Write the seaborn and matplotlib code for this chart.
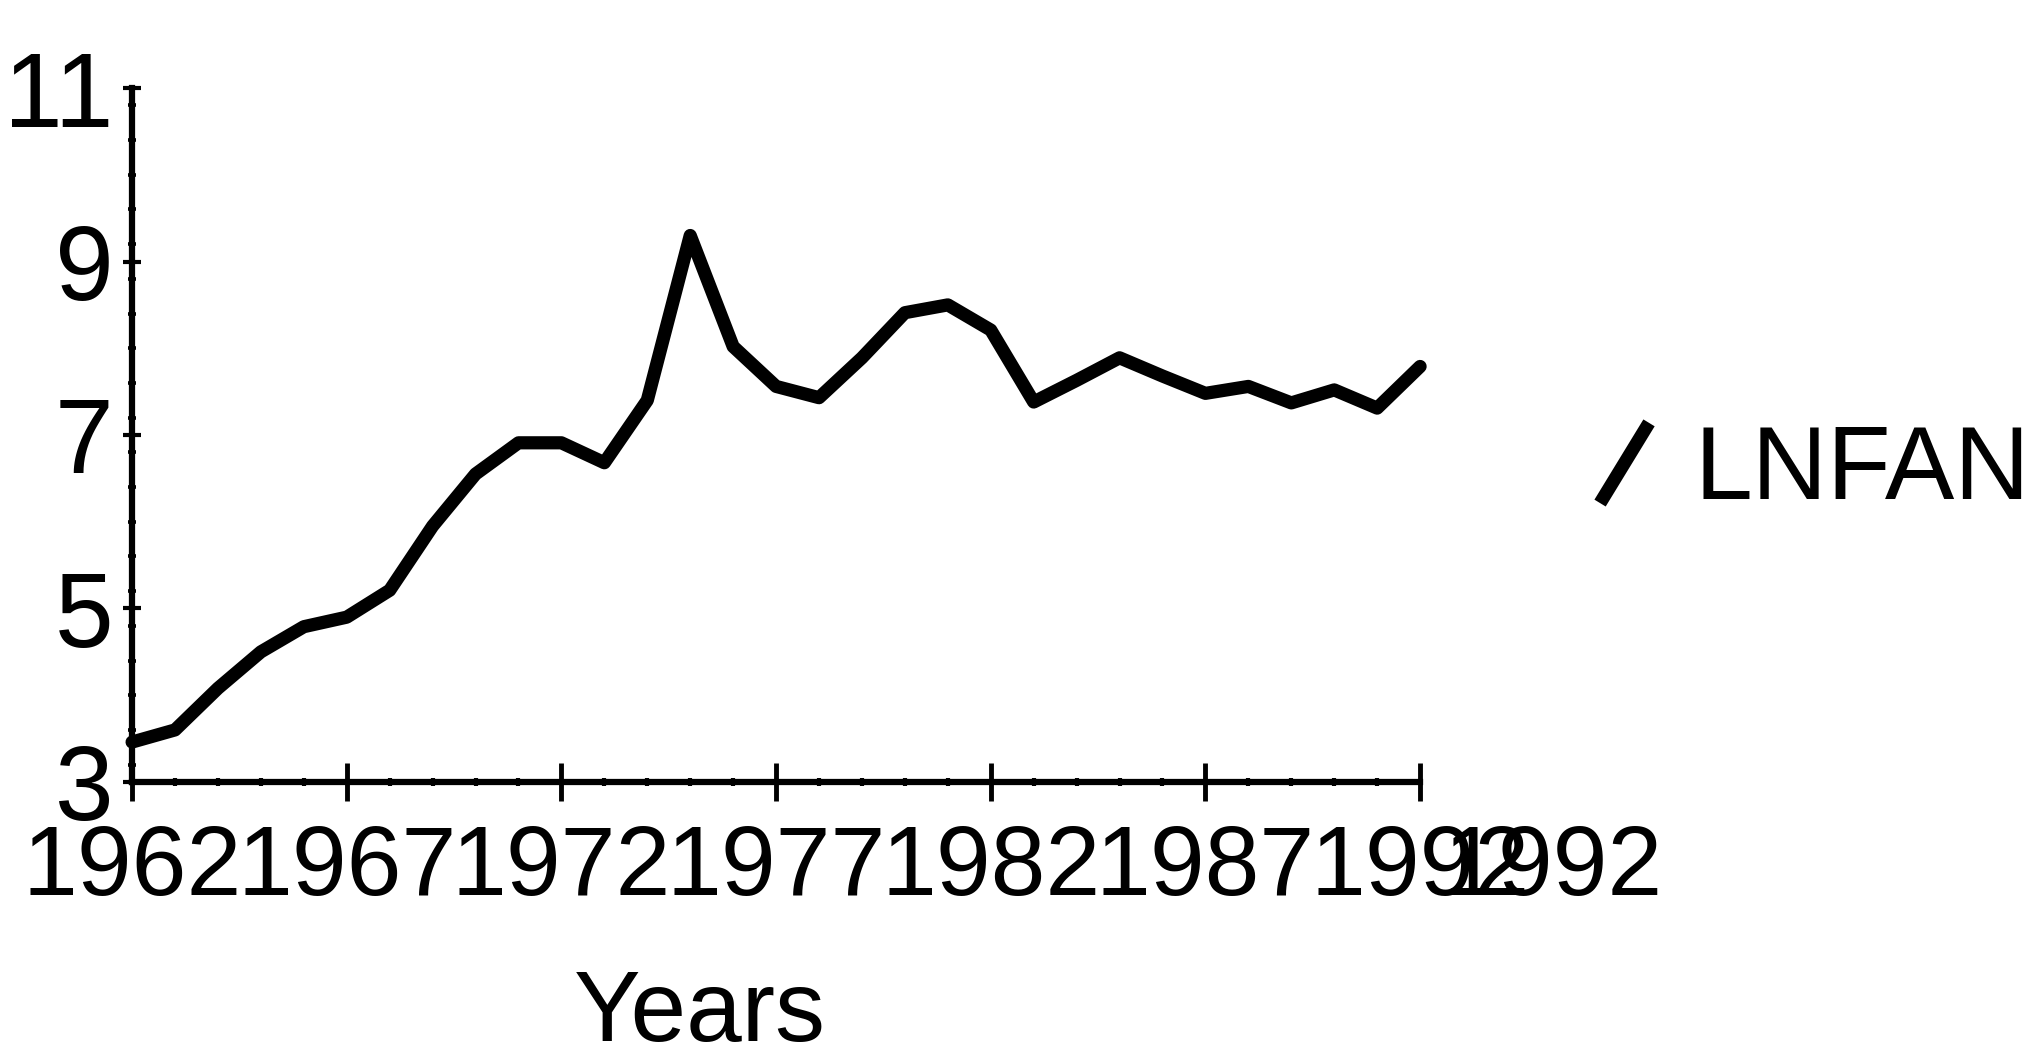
import matplotlib
matplotlib.use("Agg")
import matplotlib.pyplot as plt
import pandas as pd
import seaborn as sns
from matplotlib.legend_handler import HandlerBase
from matplotlib.lines import Line2D
from matplotlib.ticker import MultipleLocator

# Series: LNFAN by year
years = list(range(1962, 1993))
lnfan = [3.46, 3.60, 4.08, 4.50, 4.79, 4.90, 5.21, 5.95, 6.55, 6.91,
         6.91, 6.68, 7.40, 9.30, 8.02, 7.56, 7.43, 7.89, 8.41, 8.50,
         8.21, 7.38, 7.63, 7.89, 7.68, 7.48, 7.56, 7.37, 7.52, 7.31,
         7.79]

x_ticks = [1962, 1967, 1972, 1977, 1982, 1987, 1992]
x_tick_labels = ["1962", "1967", "1972", "1977", "1982", "1987", "1992"]
y_ticks = [3, 5, 7, 9, 11]
y_tick_labels = ["3", "5", "7", "9", "11"]

sns.set_style("ticks")
plt.rcParams["font.family"] = ["Liberation Sans", "DejaVu Sans"]
plt.rcParams.update({
    "text.color": "black",
    "axes.labelcolor": "black",
    "xtick.color": "black",
    "ytick.color": "black",
    "axes.edgecolor": "black",
})


class SlashHandler(HandlerBase):
    """Legend key drawn as a short slanted stroke."""

    def create_artists(self, legend, orig_handle, xdescent, ydescent,
                       width, height, fontsize, trans):
        x0, y0 = -xdescent, -ydescent
        line = Line2D([x0, x0 + width], [y0 - 0.05 * height, y0 + 1.05 * height])
        self.update_prop(line, orig_handle, legend)
        line.set_solid_capstyle("butt")
        line.set_transform(trans)
        return [line]


fig = plt.figure(figsize=(20.29, 10.58), dpi=100)
fig.patch.set_facecolor("white")
ax = fig.add_axes([0.0651, 0.2609, 0.6348, 0.6559])
ax.set_facecolor("white")

df = pd.DataFrame({"Years": years, "LNFAN": lnfan})
sns.lineplot(data=df, x="Years", y="LNFAN", ax=ax, color="black",
             lw=9.5, legend=False, solid_joinstyle="round",
             solid_capstyle="round", clip_on=False)

ax.set_xlim(1962, 1992)
ax.set_ylim(3, 11)
ax.set_xticks(x_ticks)
ax.set_xticklabels(x_tick_labels)
ax.set_yticks(y_ticks)
ax.set_yticklabels(y_tick_labels)
ax.xaxis.set_minor_locator(MultipleLocator(1))
ax.yaxis.set_minor_locator(MultipleLocator(0.4))

ax.tick_params(axis="x", which="major", direction="inout", length=28,
               width=3.5, pad=16, labelsize=71)
ax.tick_params(axis="x", which="minor", direction="inout", length=6,
               width=3.0)
ax.tick_params(axis="y", which="major", direction="inout", length=13,
               width=3.0, pad=7, labelsize=76)
ax.tick_params(axis="y", which="minor", direction="inout", length=6,
               width=2.6)

sns.despine(ax=ax)
for side in ("left", "bottom"):
    ax.spines[side].set_linewidth(4.5)
    ax.spines[side].set_color("black")
    ax.spines[side].set_capstyle("projecting")

ax.set_ylabel("")
ax.set_xlabel("Years", fontsize=72)
ax.xaxis.set_label_coords(0.441, -0.268)

# Repeated end label to the right of the last tick
ax.annotate("1992", xy=(1995.1, 0), xycoords=("data", "axes fraction"),
            xytext=(0, -30), textcoords="offset points",
            ha="center", va="top", fontsize=71,
            annotation_clip=False)

fig.legend(handles=[ax.lines[0]], labels=["LNFAN"],
           handler_map={Line2D: SlashHandler()},
           loc="center left", bbox_to_anchor=(0.7886, 0.553),
           frameon=False, fontsize=75, handlelength=0.47,
           handletextpad=0.44, borderpad=0, borderaxespad=0)

fig.savefig("out.png", dpi=100, facecolor="white")
